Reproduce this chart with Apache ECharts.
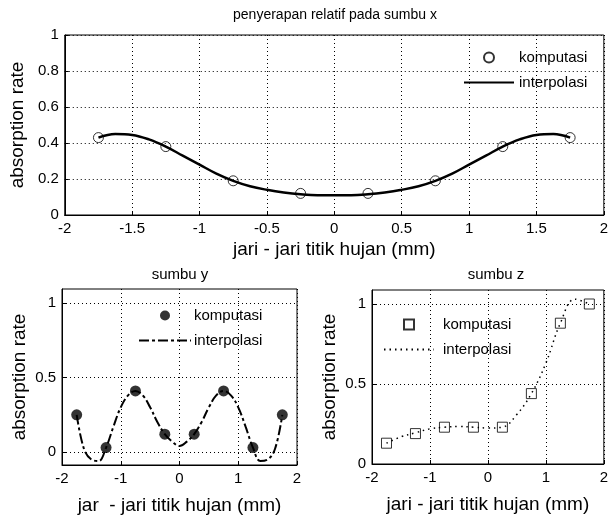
<!DOCTYPE html>
<html>
<head>
<meta charset="utf-8">
<script src="https://cdn.jsdelivr.net/npm/echarts@6/dist/echarts.min.js"></script>
<style>
html,body{margin:0;padding:0;background:#fff}
#main{width:611px;height:518px}
</style>
</head>
<body>
<div id="main"></div>
<script>
// titik komputasi (sama untuk ketiga sumbu)
var xKomp = [-1.75, -1.25, -0.75, -0.25, 0.25, 0.75, 1.25, 1.75];
var kompX = [0.43, 0.38, 0.19, 0.12, 0.12, 0.19, 0.38, 0.43];
var kompY = [0.25, 0.03, 0.41, 0.12, 0.12, 0.41, 0.03, 0.25];
var kompZ = [0.13, 0.19, 0.23, 0.23, 0.23, 0.44, 0.88, 1.00];

// kurva interpolasi
var xInterp = [-1.75, -1.625, -1.5, -1.375, -1.25, -1.125, -1, -0.875, -0.75, -0.625, -0.5, -0.375, -0.25, -0.125, 0,
               0.125, 0.25, 0.375, 0.5, 0.625, 0.75, 0.875, 1, 1.125, 1.25, 1.375, 1.5, 1.625, 1.75];
var interpX = [0.43, 0.45, 0.445, 0.42, 0.38, 0.33, 0.28, 0.23, 0.19, 0.16, 0.14, 0.125, 0.115, 0.11, 0.11,
               0.11, 0.115, 0.125, 0.14, 0.16, 0.19, 0.23, 0.28, 0.33, 0.38, 0.42, 0.445, 0.45, 0.43];
var interpY = [0.25, 0.02, -0.05, -0.06, 0.03, 0.17, 0.30, 0.38, 0.41, 0.38, 0.30, 0.20, 0.12, 0.07, 0.04,
               0.07, 0.12, 0.20, 0.30, 0.38, 0.41, 0.38, 0.30, 0.17, 0.03, -0.06, -0.05, 0.02, 0.25];
var xInterpZ = [-1.75, -1.5, -1.25, -1, -0.75, -0.5, -0.25, 0, 0.25, 0.5, 0.75, 1, 1.25, 1.5, 1.75];
var interpZ = [0.13, 0.17, 0.195, 0.22, 0.23, 0.235, 0.23, 0.225, 0.23, 0.31, 0.44, 0.63, 0.88, 1.03, 1.00];

var yTicksBawah = [0, 0.5, 1];

function pairs(xs, ys) {
  return xs.map(function (x, i) { return [x, ys[i]]; });
}

var font = 'Liberation Sans, Arial, sans-serif';
var noSym = {color: 'rgba(0,0,0,0)', borderWidth: 0, opacity: 0};
var kotak = 'path://M0,0H10V10H0Z';

function xAxisOpt(idx, interval, nameGap, name) {
  return {
    type: 'value', gridIndex: idx, min: -2, max: 2, interval: interval,
    name: name, nameLocation: 'middle', nameGap: nameGap,
    nameTextStyle: {color: '#000', fontSize: 19, fontFamily: font},
    axisLine: {show: true, onZero: false, lineStyle: {color: '#000', width: 1}},
    axisTick: {show: true, inside: true, length: 4, lineStyle: {color: '#000'}},
    axisLabel: {color: '#000', fontSize: 15, fontFamily: font, margin: 6},
    splitLine: {show: true, lineStyle: {color: '#000', type: [1, 3], width: 1}}
  };
}

function yAxisOpt(idx, min, max, extra) {
  var o = {
    type: 'value', gridIndex: idx, min: min, max: max,
    name: 'absorption rate', nameLocation: 'middle', nameGap: 33,
    nameTextStyle: {color: '#000', fontSize: 19, fontFamily: font},
    axisLine: {show: true, onZero: false, lineStyle: {color: '#000', width: 1}},
    axisTick: {show: true, inside: true, length: 4, lineStyle: {color: '#000'}},
    axisLabel: {color: '#000', fontSize: 15, fontFamily: font, margin: 6},
    splitLine: {show: true, lineStyle: {color: '#000', type: [1, 3], width: 1}}
  };
  for (var k in extra) {
    if (typeof extra[k] == 'object' && o[k]) {
      for (var j in extra[k]) o[k][j] = extra[k][j];
    } else o[k] = extra[k];
  }
  return o;
}

function legendOpt(sumbu, left, top, itemWidth, textPad) {
  return {
    data: [
      {name: 'komputasi|' + sumbu},
      {name: 'interpolasi|' + sumbu, itemStyle: noSym}
    ],
    orient: 'vertical', left: left, top: top,
    itemWidth: itemWidth, itemHeight: 10, itemGap: 10,
    formatter: function (n) { return n.split('|')[0]; },
    textStyle: {fontSize: 15, color: '#000', fontFamily: font, padding: [0, 0, 0, textPad]}
  };
}

var chart = echarts.init(document.getElementById('main'));

var option = {
  backgroundColor: '#fff',
  animation: false,
  title: [
    {text: 'penyerapan relatif pada sumbu x', left: 330, top: 3, textAlign: 'center',
     textStyle: {fontSize: 14, fontWeight: 'normal', color: '#000', fontFamily: font}},
    {text: 'sumbu y', left: 175, top: 262, textAlign: 'center',
     textStyle: {fontSize: 15, fontWeight: 'normal', color: '#000', fontFamily: font}},
    {text: 'sumbu z', left: 491, top: 262, textAlign: 'center',
     textStyle: {fontSize: 15, fontWeight: 'normal', color: '#000', fontFamily: font}}
  ],
  legend: [
    legendOpt('x', 458, 45, 50, 0),
    legendOpt('y', 133, 303, 52, -2),
    legendOpt('z', 378, 312, 50, 4)
  ],
  grid: [
    {left: 62, right: 2, top: 35, bottom: 303, show: true, borderColor: '#000', borderWidth: 1},
    {left: 62, right: 314, top: 289, bottom: 53, show: true, borderColor: '#000', borderWidth: 1},
    {left: 372, right: 2, top: 290, bottom: 54, show: true, borderColor: '#000', borderWidth: 1}
  ],
  xAxis: [
    xAxisOpt(0, 0.5, 25, 'jari - jari titik hujan (mm)'),
    xAxisOpt(1, 1, 31, 'jar  - jari titik hujan (mm)'),
    xAxisOpt(2, 1, 31, 'jari - jari titik hujan (mm)')
  ],
  yAxis: [
    yAxisOpt(0, 0, 1, {interval: 0.2}),
    yAxisOpt(1, -0.087, 1.094, {axisLabel: {customValues: yTicksBawah}, axisTick: {customValues: yTicksBawah}}),
    yAxisOpt(2, 0, 1.0875, {axisLabel: {customValues: yTicksBawah}, axisTick: {customValues: yTicksBawah}})
  ],
  series: [
    {name: 'interpolasi|x', type: 'line', xAxisIndex: 0, yAxisIndex: 0, data: pairs(xInterp, interpX),
     symbol: 'none', smooth: 0.4, color: '#000', lineStyle: {color: '#000', width: 2.5}},
    {name: 'komputasi|x', type: 'scatter', xAxisIndex: 0, yAxisIndex: 0, data: pairs(xKomp, kompX),
     symbol: 'circle', symbolSize: 10, itemStyle: {color: 'rgba(255,255,255,0)', borderColor: '#000', borderWidth: 1}},
    {name: 'interpolasi|y', type: 'line', xAxisIndex: 1, yAxisIndex: 1, data: pairs(xInterp, interpY),
     symbol: 'none', smooth: 0.4, color: '#000', lineStyle: {color: '#000', width: 2, type: [10, 3, 3, 3]}},
    {name: 'komputasi|y', type: 'scatter', xAxisIndex: 1, yAxisIndex: 1, data: pairs(xKomp, kompY),
     symbol: 'circle', symbolSize: 11, itemStyle: {color: '#000'}},
    {name: 'interpolasi|z', type: 'line', xAxisIndex: 2, yAxisIndex: 2, data: pairs(xInterpZ, interpZ),
     symbol: 'none', smooth: 0.4, color: '#000', lineStyle: {color: '#000', width: 1.5, type: [1.5, 4]}},
    {name: 'komputasi|z', type: 'scatter', xAxisIndex: 2, yAxisIndex: 2, data: pairs(xKomp, kompZ),
     symbol: kotak, symbolSize: 10, itemStyle: {color: 'rgba(255,255,255,0)', borderColor: '#000', borderWidth: 1}}
  ]
};

chart.setOption(option);
</script>
</body>
</html>
